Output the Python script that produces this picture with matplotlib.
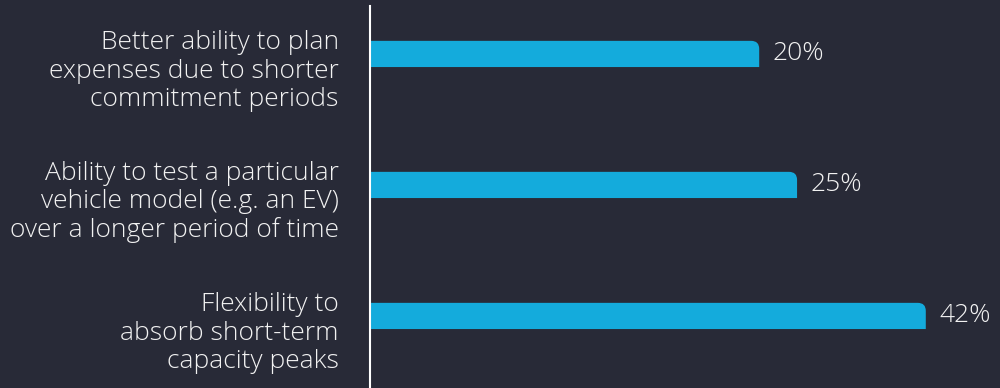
import matplotlib
matplotlib.use("Agg")
import matplotlib.pyplot as plt
from matplotlib.path import Path
from matplotlib.patches import PathPatch

categories = [
    "Better ability to plan\nexpenses due to shorter\ncommitment periods",
    "Ability to test a particular\nvehicle model (e.g. an EV)\nover a longer period of time",
    "Flexibility to\nabsorb short-term\ncapacity peaks",
]
values = [20, 25, 42]
value_labels = ["20%", "25%", "42%"]

BG = "#282a37"
BAR = "#14abdc"
TXT = "#f2f2f2"
XMIN, XMAX = -31.4, 51.8

plt.rcParams["font.family"] = ["Open Sans", "DejaVu Sans"]

fig = plt.figure(figsize=(10, 3.88), dpi=100, facecolor=BG)
ax = fig.add_axes([0.370, 0.0, 0.630, 382 / 388])
ax.set_facecolor(BG)

ypos = list(range(len(values)))
bars = ax.barh(ypos, [v - XMIN for v in values], left=XMIN, height=0.2, color=BAR)
ax.set_xlim(XMIN, XMAX)
ax.set_ylim(2.55, -0.366)

# rounded top-right corner
rx = 8 / 7.57
ry = 8 / 131
for r in bars:
    x0, y0 = r.get_xy()
    w, h = r.get_width(), r.get_height()
    x1 = x0 + w
    y1 = y0 + h
    verts = [(x0, y1), (x1, y1), (x1, y0 + ry), (x1, y0), (x1 - rx, y0), (x0, y0), (x0, y1)]
    codes = [Path.MOVETO, Path.LINETO, Path.LINETO, Path.CURVE3, Path.CURVE3, Path.LINETO, Path.CLOSEPOLY]
    r.set_visible(False)
    ax.add_patch(PathPatch(Path(verts, codes), facecolor=BAR, edgecolor="none"))

for y, v, lab in zip(ypos, values, value_labels):
    ax.annotate(lab, (v, y), xytext=(9.5, 0), textcoords="offset points",
                ha="left", va="center", color=TXT, fontsize=19, fontweight="light")

for y, c in zip(ypos, categories):
    ax.annotate(c, (XMIN, y), xytext=(-22.5, -12.3), textcoords="offset points",
                ha="right", va="center", color=TXT, fontsize=19, fontweight="light",
                linespacing=1.17, annotation_clip=False)

for s in ["top", "right", "bottom"]:
    ax.spines[s].set_visible(False)
ax.spines["left"].set_color("white")
ax.spines["left"].set_linewidth(1.5)
ax.set_xticks([])
ax.set_yticks([])

fig.savefig("out.png", dpi=100, facecolor=BG)
